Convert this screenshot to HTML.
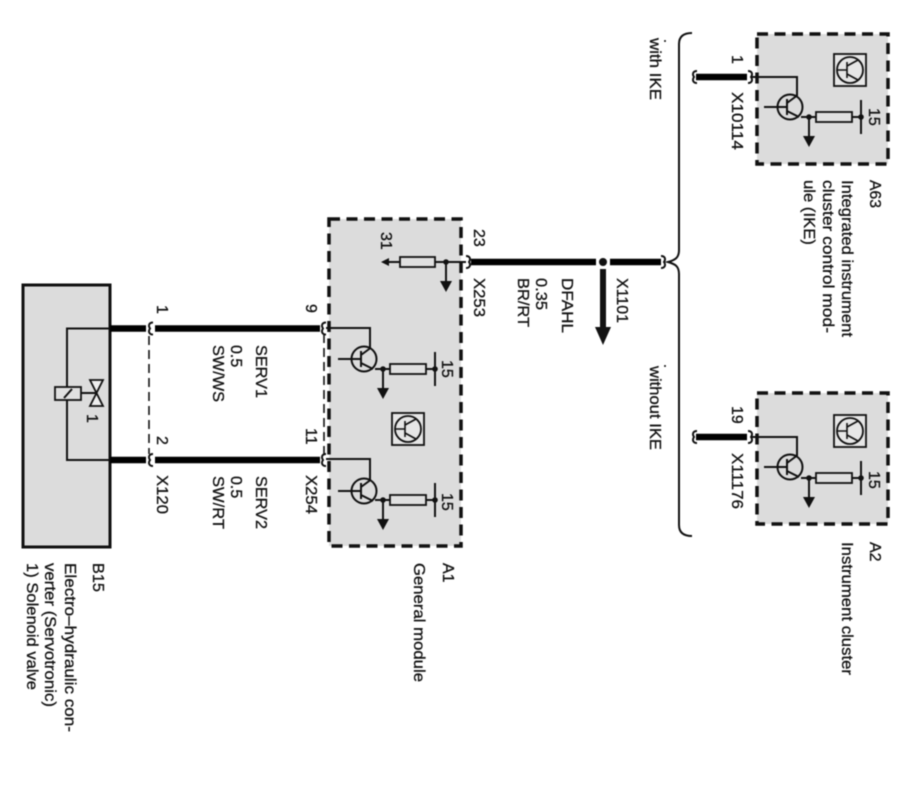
<!DOCTYPE html>
<html><head><meta charset="utf-8"><style>
html,body{margin:0;padding:0;background:#fff;width:921px;height:799px;overflow:hidden}
svg{display:block;filter:blur(.45px)}
text{font-family:"Liberation Sans",sans-serif;font-size:16px;fill:#111;stroke:#111;stroke-width:.3px}
.b{fill:#dcdcdc;stroke:#111;stroke-width:3.5;stroke-dasharray:11 6.5}
.l{stroke:#111;stroke-width:2;fill:none}
.w{stroke:#000;stroke-width:6.5;fill:none}
.r{fill:#e0e0e0;stroke:#111;stroke-width:1.8}
.f{fill:#111;stroke:none}
</style></head><body>
<svg width="921" height="799" viewBox="0 0 921 799" xmlns="http://www.w3.org/2000/svg">
<defs>
<g id="tr" class="l">
<circle cx="0" cy="0" r="12.5"/>
<path d="M-26 0H-3M-3 -8V8M-3 -4L6.500 -11M-3 4L9 10"/>
</g>
<g id="ic">
<rect x="0" y="0" width="32" height="32" fill="#e6e6e6" stroke="#111" stroke-width="1.8"/>
<circle cx="16" cy="16" r="13" fill="none" stroke="#111" stroke-width="1.8"/>
<path d="M3 16H13M13 8V24M13 12L24 6M13 20L24 26" fill="none" stroke="#111" stroke-width="1.6"/>
</g>
<g id="br">
<path class="l" d="M-8 0H52M52 -17V17"/>
<rect class="r" x="7" y="-5" width="36" height="10"/>
<circle class="f" cx="0" cy="0" r="2.8"/>
<circle class="f" cx="52" cy="0" r="2.8"/>
<path class="l" d="M0 0V20"/>
<path class="f" d="M-6 19H6L0 30Z"/>
</g>
<path id="cL" d="M0 -6C4 -6 5 -3 3 0C5 3 4 6 0 6" fill="none" stroke="#111" stroke-width="2"/>
<path id="cR" d="M0 -6C-4 -6 -5 -3 -3 0C-5 3 -4 6 0 6" fill="none" stroke="#111" stroke-width="2"/>
</defs>

<!-- B15 -->
<rect x="23" y="285" width="87" height="262" fill="#dcdcdc" stroke="#111" stroke-width="3"/>
<path class="l" d="M110 328.5H67V460H110"/>
<rect x="55" y="387" width="26" height="13" fill="#e0e0e0" stroke="#111" stroke-width="1.8"/>
<path class="l" d="M64 398L72 389M81 393H96"/>
<path d="M90 380H103L96.500 393L103 406H90L96.500 393Z" fill="#eee" stroke="#111" stroke-width="1.8"/>

<!-- Wires left -->
<path class="w" d="M110 328.500H146M155 328.500H320M110 460H146M155 460H320"/>
<use href="#cR" x="153" y="328.500"/><use href="#cR" x="153" y="460"/>
<path d="M149 336V454" stroke="#111" stroke-width="1.600" stroke-dasharray="9 5" fill="none"/>

<!-- A1 -->
<rect class="b" x="329" y="219" width="132" height="327"/>
<path d="M324 334V455" stroke="#111" stroke-width="1.600" stroke-dasharray="9 5" fill="none"/>
<use href="#cR" x="326" y="328.500"/><use href="#cR" x="326" y="460"/>
<path class="l" d="M326 328H370V348M326 459H370V480"/>
<use href="#tr" x="364" y="359"/>
<use href="#tr" x="364" y="491"/>
<use href="#br" x="383" y="369"/>
<use href="#br" x="383" y="500"/>
<use href="#ic" x="392" y="413"/>
<path class="l" d="M386 262H466"/>
<path class="f" d="M381 262L389 258V266Z"/>
<rect class="r" x="400" y="257" width="35" height="10"/>
<circle class="f" cx="446" cy="262" r="2.800"/>
<path class="l" d="M446 262V282"/>
<path class="f" d="M440 281H452L446 292Z"/>
<use href="#cL" x="466" y="262"/>
<path class="w" d="M471 262H596M610 262H661"/>
<circle class="f" cx="603" cy="262" r="4"/>
<path class="f" d="M600 269H606V327H611L603 345L595 327H600Z" />
<use href="#cL" x="661" y="262"/>

<!-- brace -->
<path d="M692 33C684 33 679 36 679 44V250C679 258 675 260 668 262C675 264 679 266 679 274V525C679 533 684 536 692 536" fill="none" stroke="#111" stroke-width="2"/>

<!-- A63 -->
<rect class="b" x="757" y="34" width="131" height="130"/>
<path class="w" d="M696 77H747"/>
<use href="#cR" x="697" y="77"/>
<use href="#cL" x="748" y="77"/>
<path class="l" d="M752 77H797V96"/>
<use href="#tr" x="790" y="107"/>
<use href="#br" x="809" y="117"/>
<use href="#ic" x="834" y="54"/>

<!-- A2 -->
<rect class="b" x="757" y="393" width="131" height="131"/>
<path class="w" d="M696 437H747"/>
<use href="#cR" x="697" y="437"/>
<use href="#cL" x="748" y="437"/>
<path class="l" d="M752 437H797V456"/>
<use href="#tr" x="790" y="467"/>
<use href="#br" x="809" y="478"/>
<use href="#ic" x="834" y="415"/>

<circle class="f" cx="665" cy="41" r="1"/>
<circle class="f" cx="665" cy="366" r="1"/>

<!-- Labels -->
<text transform="translate(157,305) rotate(90)">1</text>
<text transform="translate(157,436) rotate(90)">2</text>
<text transform="translate(157,475) rotate(90)" textLength="39" lengthAdjust="spacingAndGlyphs">X120</text>
<text transform="translate(87,414) rotate(90)">1</text>
<text transform="translate(256,345) rotate(90)" textLength="53" lengthAdjust="spacingAndGlyphs">SERV1</text>
<text transform="translate(231,345) rotate(90)">0.5</text>
<text transform="translate(213,345) rotate(90)" textLength="57" lengthAdjust="spacingAndGlyphs">SW/WS</text>
<text transform="translate(256,476) rotate(90)" textLength="53" lengthAdjust="spacingAndGlyphs">SERV2</text>
<text transform="translate(231,476) rotate(90)">0.5</text>
<text transform="translate(213,476) rotate(90)" textLength="53" lengthAdjust="spacingAndGlyphs">SW/RT</text>
<text transform="translate(306,304) rotate(90)">9</text>
<text transform="translate(306,428) rotate(90)">11</text>
<text transform="translate(306,475) rotate(90)" textLength="39" lengthAdjust="spacingAndGlyphs">X254</text>
<text transform="translate(381,232) rotate(90)">31</text>
<text transform="translate(474,229) rotate(90)">23</text>
<text transform="translate(474,278) rotate(90)" textLength="39" lengthAdjust="spacingAndGlyphs">X253</text>
<text transform="translate(562,278) rotate(90)" textLength="55" lengthAdjust="spacingAndGlyphs">DFAHL</text>
<text transform="translate(536,278) rotate(90)" textLength="32" lengthAdjust="spacingAndGlyphs">0.35</text>
<text transform="translate(518,278) rotate(90)" textLength="49" lengthAdjust="spacingAndGlyphs">BR/RT</text>
<text transform="translate(617,278) rotate(90)" textLength="45" lengthAdjust="spacingAndGlyphs">X1101</text>
<text transform="translate(442,360) rotate(90)">15</text>
<text transform="translate(442,493) rotate(90)">15</text>
<text transform="translate(869,108) rotate(90)">15</text>
<text transform="translate(869,471) rotate(90)">15</text>
<text transform="translate(732,55) rotate(90)">1</text>
<text transform="translate(732,92) rotate(90)" textLength="58" lengthAdjust="spacingAndGlyphs">X10114</text>
<text transform="translate(732,406) rotate(90)">19</text>
<text transform="translate(732,453) rotate(90)" textLength="56" lengthAdjust="spacingAndGlyphs">X11176</text>
<text transform="translate(650,38) rotate(90)" textLength="62" lengthAdjust="spacingAndGlyphs">with IKE</text>
<text transform="translate(650,366) rotate(90)" textLength="84" lengthAdjust="spacingAndGlyphs">without IKE</text>
<text transform="translate(870,180) rotate(90)" textLength="28" lengthAdjust="spacingAndGlyphs">A63</text>
<text transform="translate(842,180) rotate(90)" textLength="157" lengthAdjust="spacingAndGlyphs">Integrated instrument</text>
<text transform="translate(823,180) rotate(90)" textLength="153" lengthAdjust="spacingAndGlyphs">cluster control mod-</text>
<text transform="translate(804,180) rotate(90)" textLength="65" lengthAdjust="spacingAndGlyphs">ule (IKE)</text>
<text transform="translate(870,542) rotate(90)">A2</text>
<text transform="translate(842,542) rotate(90)" textLength="133" lengthAdjust="spacingAndGlyphs">Instrument cluster</text>
<text transform="translate(443,563) rotate(90)">A1</text>
<text transform="translate(414,563) rotate(90)" textLength="119" lengthAdjust="spacingAndGlyphs">General module</text>
<text transform="translate(93,563) rotate(90)" textLength="29" lengthAdjust="spacingAndGlyphs">B15</text>
<text transform="translate(65,563) rotate(90)" textLength="169" lengthAdjust="spacingAndGlyphs">Electro–hydraulic con-</text>
<text transform="translate(45,563) rotate(90)" textLength="144" lengthAdjust="spacingAndGlyphs">verter (Servotronic)</text>
<text transform="translate(27,563) rotate(90)" textLength="127" lengthAdjust="spacingAndGlyphs">1) Solenoid valve</text>
</svg>
</body></html>
